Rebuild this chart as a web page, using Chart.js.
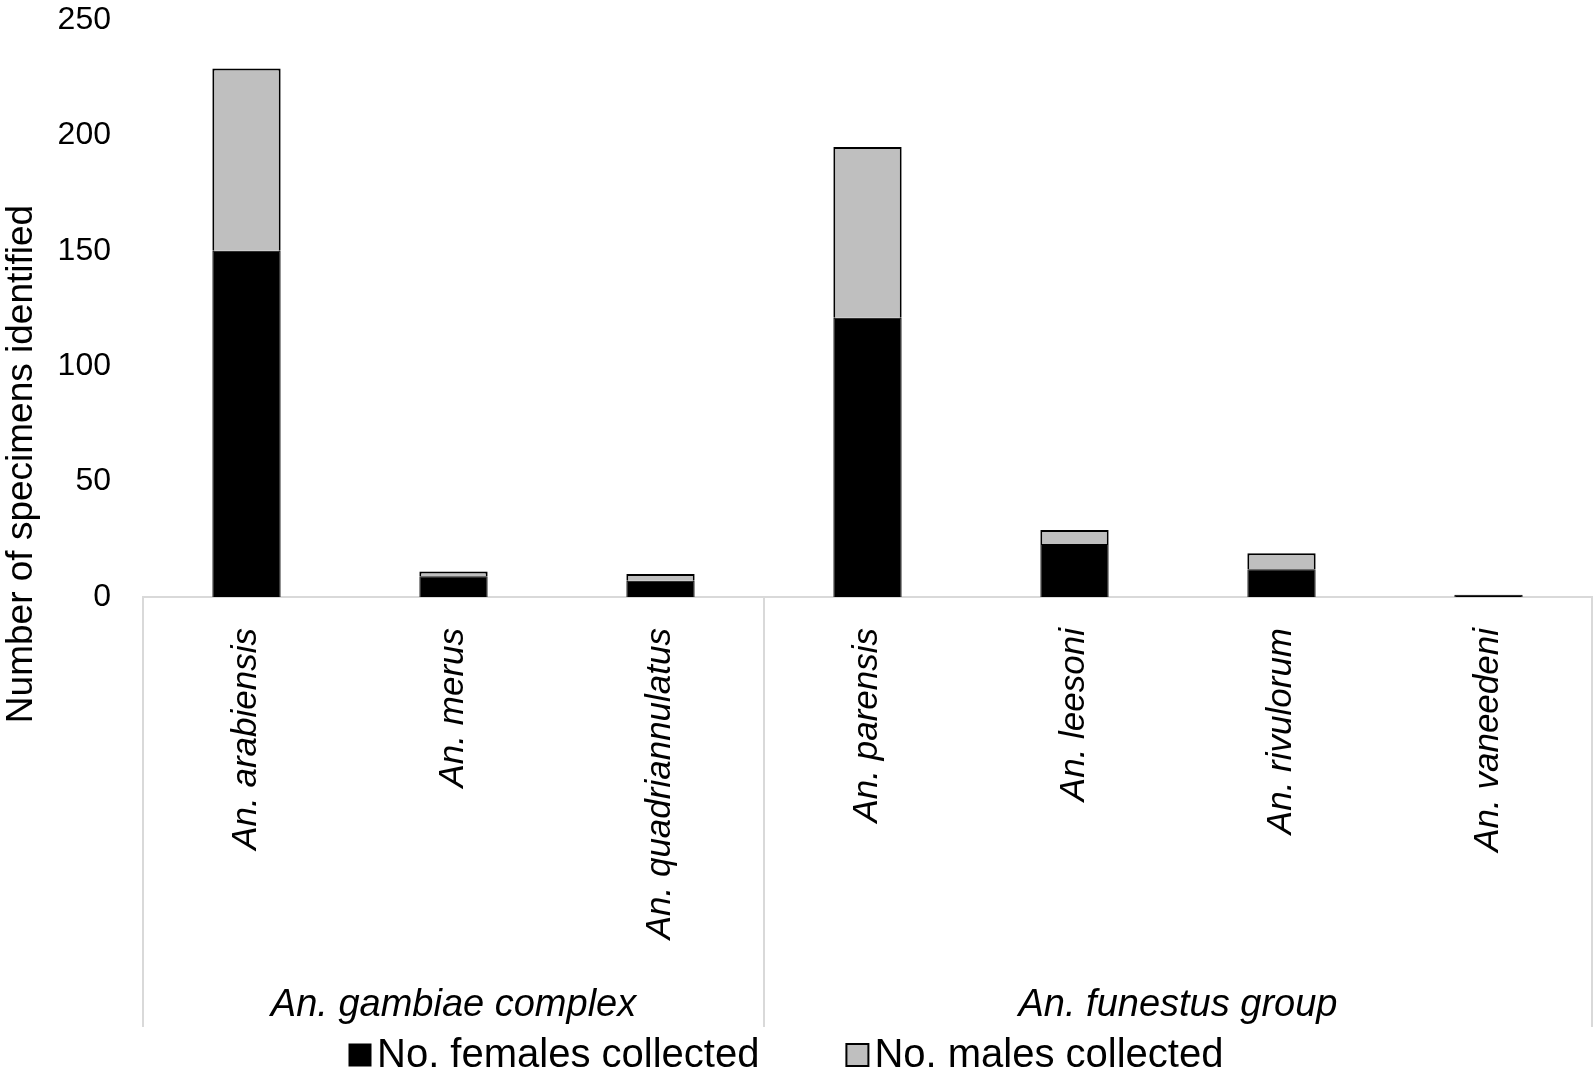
<!DOCTYPE html>
<html>
<head>
<meta charset="utf-8">
<script src="https://cdn.jsdelivr.net/npm/chart.js@4/dist/chart.umd.min.js"></script>
<style>
  html, body { margin: 0; padding: 0; background: #fff; }
  #wrap { width: 1594px; height: 1082px; position: relative; }
</style>
</head>
<body>
<div id="wrap"><canvas id="speciesChart"></canvas></div>
<script>
// species (x categories) and the group each one belongs to
const species = ['An. arabiensis', 'An. merus', 'An. quadriannulatus', 'An. parensis', 'An. leesoni', 'An. rivulorum', 'An. vaneedeni'];
const groupNames = ['An. gambiae complex', 'An. funestus group'];
const groupSizes = [3, 4];

// counts
const females = [150, 9, 7, 121, 23, 12, 1];
const males = [79, 2, 3, 74, 6, 7, 0];

const yTicks = [0, 50, 100, 150, 200, 250];
const yTitle = 'Number of specimens identified';

const FONT = '"Liberation Sans", Arial, sans-serif';

// group separators, group names, y title and the legend row
const extrasPlugin = {
  id: 'extras',
  afterDraw(chart) {
    const ctx = chart.ctx;
    const xs = chart.scales.x;
    const top = xs.top;
    const bottom = 1027;
    const edges = [xs.left];
    let idx = 0;
    groupSizes.forEach(n => {
      idx += n;
      if (idx < species.length) {
        edges.push((xs.getPixelForValue(idx - 1) + xs.getPixelForValue(idx)) / 2);
      } else {
        edges.push(xs.right);
      }
    });
    ctx.save();
    ctx.strokeStyle = '#d9d9d9';
    ctx.lineWidth = 2;
    edges.forEach(e => {
      ctx.beginPath();
      ctx.moveTo(e, top);
      ctx.lineTo(e, bottom);
      ctx.stroke();
    });
    ctx.fillStyle = '#000';
    ctx.font = 'italic 38px ' + FONT;
    ctx.textAlign = 'center';
    ctx.textBaseline = 'middle';
    groupNames.forEach((g, i) => {
      ctx.fillText(g, (edges[i] + edges[i + 1]) / 2, 1005);
    });

    // y axis title
    ctx.save();
    ctx.translate(22, 464);
    ctx.rotate(-Math.PI / 2);
    ctx.font = '37px ' + FONT;
    ctx.fillText(yTitle, 0, 0);
    ctx.restore();

    // legend
    let x = 349;
    const cy = 1055;
    ctx.font = '40px ' + FONT;
    ctx.textAlign = 'left';
    chart.data.datasets.forEach(ds => {
      ctx.fillStyle = ds.backgroundColor;
      ctx.fillRect(x, cy - 11, 22, 22);
      ctx.strokeStyle = '#000';
      ctx.lineWidth = ds.borderWidth;
      ctx.strokeRect(x, cy - 11, 22, 22);
      ctx.fillStyle = '#000';
      ctx.fillText(ds.label, x + 28, cy + 1);
      x += 28 + ctx.measureText(ds.label).width + 87;
    });
    ctx.restore();
  }
};

const ctx = document.getElementById('speciesChart').getContext('2d');
const speciesChart = new Chart(ctx, {
  type: 'bar',
  data: {
    labels: species,
    datasets: [{
      label: 'No. females collected',
      data: females,
      backgroundColor: '#000000',
      borderColor: '#000000',
      borderWidth: 1,
      barPercentage: 0.33,
      categoryPercentage: 1
    }, {
      label: 'No. males collected',
      data: males,
      backgroundColor: '#bfbfbf',
      borderColor: '#000000',
      borderWidth: 2,
      barPercentage: 0.33,
      categoryPercentage: 1
    }]
  },
  options: {
    responsive: true,
    maintainAspectRatio: false,
    animation: false,
    layout: { padding: { top: 20, right: 2, left: 0, bottom: 55 } },
    plugins: {
      tooltip: { enabled: false },
      legend: { display: false }
    },
    scales: {
      x: {
        stacked: true,
        grid: { display: false },
        border: { display: true, color: '#d9d9d9', width: 2 },
        ticks: {
          color: '#000',
          font: { family: FONT, size: 35, style: 'italic' },
          minRotation: 90,
          maxRotation: 90,
          padding: 23
        },
        afterFit(scale) { scale.height = 430; }
      },
      y: {
        stacked: true,
        min: 0,
        max: 250,
        grid: { display: false, drawTicks: false },
        border: { display: false },
        afterBuildTicks(scale) { scale.ticks = yTicks.map(v => ({ value: v })); },
        ticks: {
          color: '#000',
          font: { family: FONT, size: 32 },
          padding: 32
        },
        afterFit(scale) {
          scale.width = 143;
          scale.paddingTop = 0;
          scale.paddingBottom = 0;
        }
      }
    }
  },
  plugins: [extrasPlugin]
});
</script>
</body>
</html>
